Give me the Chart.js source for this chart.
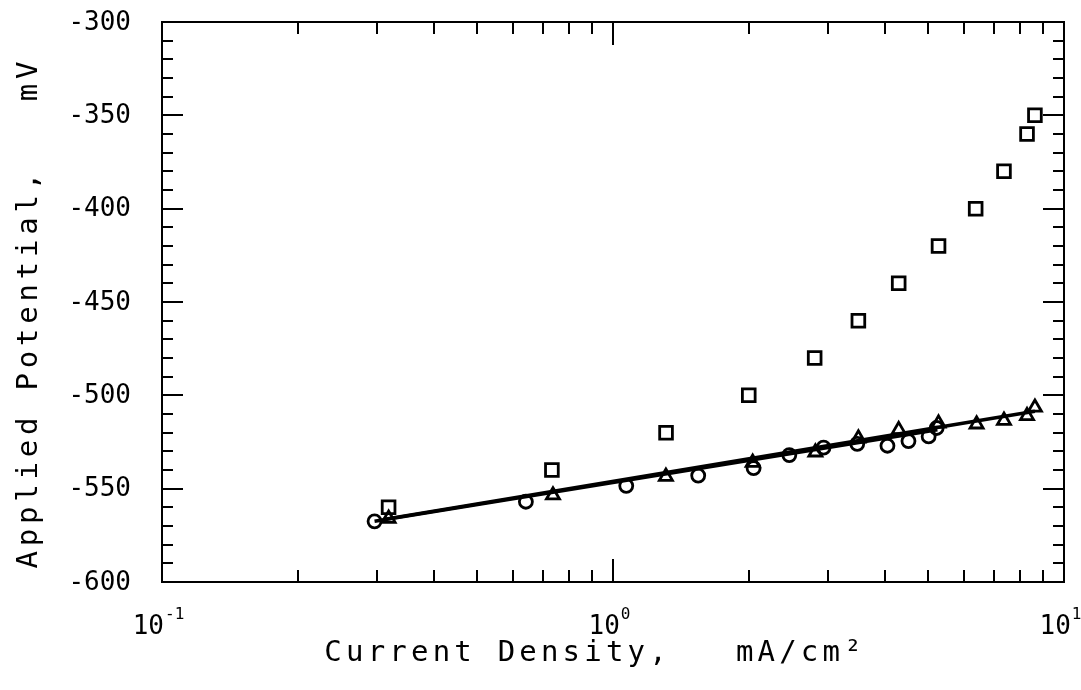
<!DOCTYPE html>
<html>
<head>
<meta charset="utf-8">
<script src="https://cdn.jsdelivr.net/npm/chart.js@4/dist/chart.umd.min.js"></script>
<style>
html,body{margin:0;padding:0;background:#fff;}
#c{display:block;}
</style>
</head>
<body>
<canvas id="c" width="1081" height="690"></canvas>
<script>
// ---- data ----
const circleX = [0.296, 0.641, 1.07, 1.545, 2.05, 2.46, 2.93, 3.48, 4.06, 4.52, 5.01, 5.22];
const circleY = [-567.5, -557, -548.5, -543, -539, -532, -528, -526, -527, -524.5, -522, -517.5];

const triangleX = [0.318, 0.736, 1.31, 2.04, 2.81, 3.50, 4.30, 5.27, 6.40, 7.36, 8.28, 8.62];
const triangleY = [-566, -553.5, -543.5, -536, -530.5, -523, -518.5, -515, -515.5, -513.5, -511, -506.5];

const squareX = [0.318, 0.732, 1.311, 2.0, 2.80, 3.50, 4.30, 5.27, 6.37, 7.36, 8.28, 8.62];
const squareY = [-560, -540, -520, -500, -480, -460, -440, -420, -400, -380, -360, -350];

const circleFitX = [0.296, 5.24];
const circleFitY = [-567.5, -518.5];
const triangleFitX = [0.31, 8.62];
const triangleFitY = [-566.5, -508.5];

// ---- axes / ticks ----
const xMin = 0.1, xMax = 10;
const yMin = -600, yMax = -300;
const xMajorTicks = [0.1, 1, 10];
const xTickBase = ['10', '10', '10'];
const xTickExp = ['-1', '0', '1'];
const xMinorTicks = [0.2, 0.3, 0.4, 0.5, 0.6, 0.7, 0.8, 0.9, 2, 3, 4, 5, 6, 7, 8, 9];
const yMajorTicks = [-600, -550, -500, -450, -400, -350, -300];
const yTickLabels = ['-600', '-550', '-500', '-450', '-400', '-350', '-300'];
const yMinorTicks = [-590, -580, -570, -560, -540, -530, -520, -510, -490, -480, -470, -460,
  -440, -430, -420, -410, -390, -380, -370, -360, -340, -330, -320, -310];
const xTitle = 'Current Density,   mA/cm\u00B2';
const yTitle = 'Applied Potential,   mV';

const pts = (xs, ys) => xs.map((x, i) => ({x: x, y: ys[i]}));

const FONT = '"DejaVu Sans Mono", "Liberation Mono", monospace';

function spacedText(ctx, text, x, y, spacing, align) {
  let w = 0;
  const widths = [];
  for (const ch of text) { const m = ctx.measureText(ch).width; widths.push(m); w += m; }
  w += spacing * (widths.length - 1);
  let sx = align === 'center' ? x - w / 2 : (align === 'right' ? x - w : x);
  ctx.textAlign = 'left';
  if ('letterSpacing' in ctx) {
    ctx.letterSpacing = spacing + 'px';
    ctx.fillText(text, sx, y);
    ctx.letterSpacing = '0px';
  } else {
    let i = 0;
    for (const ch of text) { ctx.fillText(ch, sx, y); sx += widths[i++] + spacing; }
  }
  return w;
}

const framePlugin = {
  id: 'framePlugin',
  afterDraw(chart) {
    const ctx = chart.ctx, xs = chart.scales.x, ys = chart.scales.y, a = chart.chartArea;
    ctx.save();
    ctx.strokeStyle = '#000';
    ctx.fillStyle = '#000';
    ctx.lineWidth = 2;
    ctx.strokeRect(a.left, a.top, a.right - a.left, a.bottom - a.top);
    ctx.beginPath();
    const xTick = (v, len) => {
      const p = Math.round(xs.getPixelForValue(v));
      ctx.moveTo(p, a.bottom); ctx.lineTo(p, a.bottom - len);
      ctx.moveTo(p, a.top); ctx.lineTo(p, a.top + len);
    };
    const yTick = (v, len) => {
      const p = Math.round(ys.getPixelForValue(v));
      ctx.moveTo(a.left, p); ctx.lineTo(a.left + len, p);
      ctx.moveTo(a.right, p); ctx.lineTo(a.right - len, p);
    };
    xMajorTicks.forEach(v => xTick(v, 23));
    xMinorTicks.forEach(v => xTick(v, 12));
    yMajorTicks.forEach(v => yTick(v, 21));
    yMinorTicks.forEach(v => yTick(v, 11));
    ctx.stroke();

    // y tick labels
    ctx.font = '26px ' + FONT;
    ctx.textBaseline = 'middle';
    yMajorTicks.forEach((v, i) => {
      spacedText(ctx, yTickLabels[i], 131, ys.getPixelForValue(v) + 1, 0, 'right');
    });

    // x tick labels with superscript exponent
    xMajorTicks.forEach((v, i) => {
      const p = xs.getPixelForValue(v);
      ctx.font = '26px ' + FONT;
      ctx.textBaseline = 'alphabetic';
      const bw = ctx.measureText(xTickBase[i]).width;
      ctx.font = '16px ' + FONT;
      const ew = ctx.measureText(xTickExp[i]).width;
      const total = bw + 2 + ew;
      const sx = p - total / 2 - 3;
      ctx.font = '26px ' + FONT;
      spacedText(ctx, xTickBase[i], sx, 634, 0, 'left');
      ctx.font = '16px ' + FONT;
      ctx.textAlign = 'left';
      ctx.fillText(xTickExp[i], sx + bw + 1, 619);
    });

    // axis titles
    ctx.font = '29px ' + FONT;
    ctx.textBaseline = 'alphabetic';
    spacedText(ctx, xTitle, 593, 661, 4.2, 'center');

    ctx.save();
    ctx.translate(37, 315);
    ctx.rotate(-Math.PI / 2);
    ctx.textBaseline = 'alphabetic';
    spacedText(ctx, yTitle, 0, 0, 4.8, 'center');
    ctx.restore();

    ctx.restore();
  }
};

Chart.defaults.font.family = FONT;

new Chart(document.getElementById('c'), {
  type: 'scatter',
  data: {
    datasets: [
      {
        type: 'line', label: 'fit circles', data: pts(circleFitX, circleFitY),
        borderColor: '#000', borderWidth: 3.5, pointRadius: 0, fill: false, order: 3
      },
      {
        type: 'line', label: 'fit triangles', data: pts(triangleFitX, triangleFitY),
        borderColor: '#000', borderWidth: 3.5, pointRadius: 0, fill: false, order: 3
      },
      {
        label: 'circles', data: pts(circleX, circleY), pointStyle: 'circle',
        pointRadius: 6.5, borderColor: '#000', backgroundColor: 'rgba(0,0,0,0)',
        borderWidth: 2.8, order: 1
      },
      {
        label: 'triangles', data: pts(triangleX, triangleY), pointStyle: 'triangle',
        pointRadius: 7.5, borderColor: '#000', backgroundColor: 'rgba(0,0,0,0)',
        borderWidth: 2.8, order: 1
      },
      {
        label: 'squares', data: pts(squareX, squareY), pointStyle: 'rect',
        pointRadius: 9, borderColor: '#000', backgroundColor: 'rgba(0,0,0,0)',
        borderWidth: 2.8, order: 1
      }
    ]
  },
  options: {
    responsive: false,
    animation: false,
    devicePixelRatio: 1,
    layout: { padding: { left: 162, top: 22, right: 17, bottom: 108 } },
    plugins: { legend: { display: false }, tooltip: { enabled: false } },
    scales: {
      x: { type: 'logarithmic', min: xMin, max: xMax, display: false },
      y: { type: 'linear', min: yMin, max: yMax, display: false }
    }
  },
  plugins: [framePlugin]
});
</script>
</body>
</html>
